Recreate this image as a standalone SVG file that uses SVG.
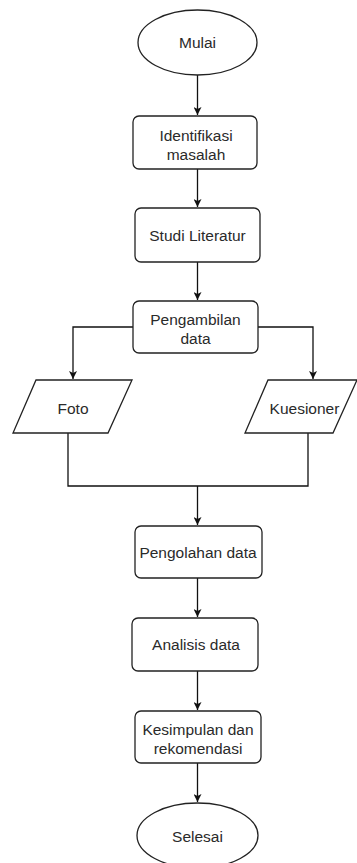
<svg xmlns="http://www.w3.org/2000/svg" width="357" height="863" viewBox="0 0 357 863">
<defs>
<marker id="ah" viewBox="0 0 10 10" refX="10" refY="5" markerWidth="8" markerHeight="8" markerUnits="userSpaceOnUse" orient="auto">
<path d="M0,0 L10,5 L0,10 L2.5,5 Z" fill="#111"/>
</marker>
<style>
.shape{fill:#fff;stroke:#222;stroke-width:1.3}
.t{font-family:"Liberation Sans",Arial,sans-serif;font-size:15.5px;fill:#2a2a2a;text-anchor:middle}
.c{fill:none;stroke:#111;stroke-width:1.3}
.a{marker-end:url(#ah)}
</style>
</defs>
<rect width="357" height="863" fill="#fff"/>
<g id="connectors">
<path class="c a" d="M197.5,75 V115"/>
<path class="c a" d="M197.5,169 V207"/>
<path class="c a" d="M197.5,262 V300"/>
<path class="c a" d="M133,327 H73 V379"/>
<path class="c a" d="M258,327 H313 V379"/>
<path class="c" d="M68,433 V486 H308 V433"/>
<path class="c a" d="M197.5,486 V525"/>
<path class="c a" d="M197.5,578 V617"/>
<path class="c a" d="M197.5,671 V710"/>
<path class="c a" d="M197.5,763 V802"/>
</g>
<g id="mulai">
<ellipse class="shape" cx="197.5" cy="42.5" rx="59.5" ry="32.5"/>
<text class="t" x="197.5" y="48">Mulai</text>
</g>
<g id="identifikasi">
<rect class="shape" x="133" y="116" width="124" height="53" rx="6"/>
<text class="t" x="196" y="140.5">Identifikasi</text>
<text class="t" x="196" y="159.5">masalah</text>
</g>
<g id="studi">
<rect class="shape" x="135" y="208" width="125" height="54" rx="6"/>
<text class="t" x="197.5" y="240.5">Studi Literatur</text>
</g>
<g id="pengambilan">
<rect class="shape" x="133" y="301" width="125" height="52" rx="6"/>
<text class="t" x="195.5" y="324.5">Pengambilan</text>
<text class="t" x="195.5" y="343.5">data</text>
</g>
<g id="foto">
<polygon class="shape" points="36,380 132,380 108,433 13,433"/>
<text class="t" x="73" y="413.5">Foto</text>
</g>
<g id="kuesioner">
<polygon class="shape" points="268,380 357,380 333,433 245,433"/>
<text class="t" x="304.5" y="413.5">Kuesioner</text>
</g>
<g id="pengolahan">
<rect class="shape" x="135" y="526" width="127" height="52" rx="6"/>
<text class="t" x="198" y="557.5">Pengolahan data</text>
</g>
<g id="analisis">
<rect class="shape" x="132" y="618" width="126" height="53" rx="6"/>
<text class="t" x="196" y="650">Analisis data</text>
</g>
<g id="kesimpulan">
<rect class="shape" x="135" y="711" width="126" height="52" rx="6"/>
<text class="t" x="198" y="734.5">Kesimpulan dan</text>
<text class="t" x="198" y="753.5">rekomendasi</text>
</g>
<g id="selesai">
<ellipse class="shape" cx="197.5" cy="835.5" rx="60.5" ry="32.5"/>
<text class="t" x="197.5" y="841.5">Selesai</text>
</g>
</svg>
